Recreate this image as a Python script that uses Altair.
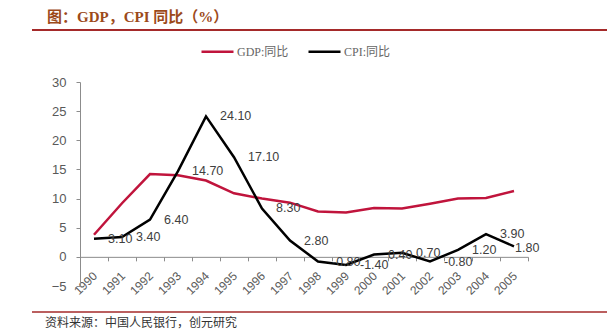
import altair as alt
import pandas as pd

years = [str(y) for y in range(1990, 2006)]
gdp = [3.8, 9.2, 14.2, 14.0, 13.1, 10.9, 10.0, 9.3, 7.8, 7.6, 8.4, 8.3, 9.1, 10.0, 10.1, 11.3]
cpi = [3.1, 3.4, 6.4, 14.7, 24.1, 17.1, 8.3, 2.8, -0.8, -1.4, 0.4, 0.7, -0.8, 1.2, 3.9, 1.8]
series_names = ["GDP:同比", "CPI:同比"]
series_colors = ["#c0143c", "#000000"]
y_ticks = [-5, 0, 5, 10, 15, 20, 25, 30]
title_text = "图：GDP，CPI 同比（%）"
source_text = "资料来源：中国人民银行，创元研究"

rows = []
for i, yr in enumerate(years):
    rows.append({"year": yr, "idx": i, "series": series_names[0], "value": gdp[i]})
    rows.append({"year": yr, "idx": i, "series": series_names[1], "value": cpi[i]})
df = pd.DataFrame(rows)
cpi_df = pd.DataFrame({"year": years, "value": cpi, "label": [f"{v:.2f}" for v in cpi]})

W, H = 448, 204
px_per_unit = H / 35.0
axis_offset = -(5 * px_per_unit)

xscale = alt.Scale(type="band", domain=years, paddingInner=0, paddingOuter=0)
yscale = alt.Scale(domain=[-5, 30], nice=False, zero=False)

x_axis = alt.Axis(title=None, labelAngle=-45, tickBand="extent", offset=axis_offset,
                  domainColor="#8c8c8c", tickColor="#8c8c8c", tickSize=4,
                  labelColor="#595959", labelFontSize=12, labelFont="Liberation Sans",
                  labelPadding=9, labelOffset=-3, labelOverlap=False, grid=False)
y_axis = alt.Axis(title=None, values=y_ticks, domainColor="#8c8c8c", tickColor="#8c8c8c",
                  tickSize=4, labelColor="#595959", labelFontSize=13,
                  labelFont="Liberation Sans", labelPadding=10, labelOverlap=False,
                  labelFlush=False, grid=False)

lines = alt.Chart(df).mark_line(strokeWidth=2.5).encode(
    x=alt.X("year:O", scale=xscale, axis=x_axis),
    y=alt.Y("value:Q", scale=yscale, axis=y_axis),
    color=alt.Color("series:N", scale=alt.Scale(domain=series_names, range=series_colors),
                    legend=alt.Legend(title=None, orient="none", direction="horizontal",
                                      legendX=120, legendY=-48, symbolType="stroke",
                                      symbolSize=1024, symbolStrokeWidth=2.5, columnPadding=14,
                                      labelFont="Liberation Serif, Noto Sans CJK SC",
                                      labelFontSize=12, labelColor="#666666", labelOffset=2)),
    order=alt.Order("idx:Q"),
)

label_base = alt.Chart(cpi_df).encode(
    x=alt.X("year:O", scale=xscale, axis=x_axis),
    y=alt.Y("value:Q", scale=yscale, axis=y_axis),
    text="label:N",
)
labels = label_base.mark_text(align="left", baseline="middle", dx=14, fontSize=12.5,
                              font="Liberation Sans", color="#404040").transform_filter(
    alt.datum.year != years[-1])
label_last = label_base.mark_text(align="left", baseline="middle", dx=1, dy=2, fontSize=12.5,
                                  font="Liberation Sans", color="#404040").transform_filter(
    alt.datum.year == years[-1])

rule_top = alt.Chart(pd.DataFrame({"a": [0]})).mark_rule(color="#a52a2a", strokeWidth=2).encode(
    x=alt.value(-48), x2=alt.value(527), y=alt.value(-52))
rule_bot = alt.Chart(pd.DataFrame({"a": [0]})).mark_rule(color="#a52a2a", strokeWidth=1.5).encode(
    x=alt.value(-48), x2=alt.value(527), y=alt.value(230))

title = alt.Chart(pd.DataFrame({"t": [title_text]})).mark_text(
    align="left", baseline="middle", fontSize=15, color="#9c4a1a",
    font="Liberation Serif, Noto Sans CJK SC", fontWeight="bold").encode(
    x=alt.value(-33), y=alt.value(-65), text="t:N")

source = alt.Chart(pd.DataFrame({"t": [source_text]})).mark_text(
    align="left", baseline="top", fontSize=12, color="#333333",
    font="Noto Sans CJK SC").encode(
    x=alt.value(-35), y=alt.value(236), text="t:N")

chart = alt.layer(lines, labels, label_last, rule_top, rule_bot, title, source).properties(
    width=W, height=H,
    background="white",
    autosize=alt.AutoSizeParams(type="none"),
    padding={"left": 80, "top": 82, "right": 79, "bottom": 45},
).configure_view(stroke=None)

chart.save("out.html", embed_options={"renderer": "svg", "actions": False})
